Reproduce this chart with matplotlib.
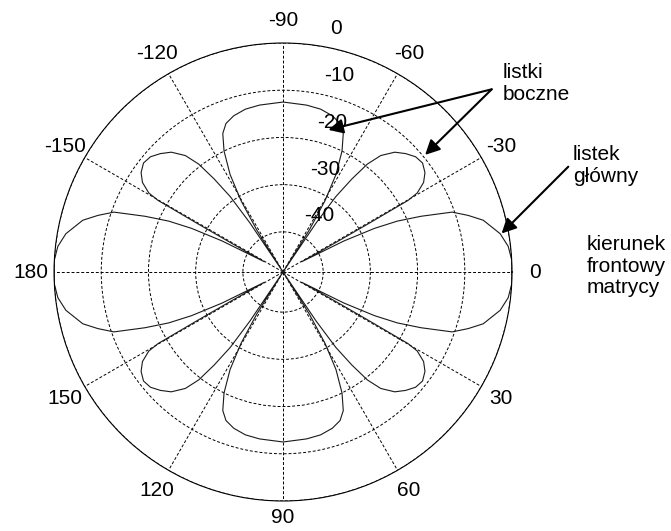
import numpy as np
import matplotlib.pyplot as plt
from matplotlib.transforms import offset_copy

plt.rcParams['font.family'] = ['Liberation Sans', 'DejaVu Sans']

# charakterystyka - jedna cwiartka (0..90 deg), reszta przez symetrie
quad_deg = np.array([0, 3, 6.5, 10, 14.5, 17, 19.5, 22, 24, 25.5, 27, 28.8,
                     29.2, 29.5, 29.8, 30.5, 32.5, 35, 38, 41, 44, 47, 50,
                     52, 53.5, 55, 56, 57, 58, 59.5, 61.5, 64, 66.5, 69,
                     72.5, 77, 82, 90])
quad_db = np.array([0, 0, -0.5, -1.8, -4.7, -7.5, -10.5, -17, -22, -27, -34, -44,
                    -36, -28, -18, -15.5, -13.2, -11.8, -11.0, -11.3, -12.4, -13.8, -16.3,
                    -19.5, -24, -29, -36, -48.5, -38, -31, -25, -20, -16.5, -14.8,
                    -13.8, -13.1, -12.8, -12.5])

theta_ticks = np.arange(0, 360, 30)
theta_labels = ['0', '30', '60', '90', '120', '150', '180',
                '-150', '-120', '-90', '-60', '-30']
r_ticks = [-40, -30, -20, -10, 0]
r_min = -48.5

W, H = 671, 531
R_PX = 229  # promien kola w pikselach


def fig_px(x, y):
    # piksele obrazka (od gory) -> figure fraction
    return (x / W, 1 - y / H)


def r_at(px):
    # odleglosc od srodka w pikselach -> wartosc r w danych
    return r_min + px / R_PX * (0 - r_min)


fig = plt.figure(figsize=(W / 100, H / 100), dpi=100)
ax = fig.add_axes([0.0805, 0.0565, 0.6826, 0.8625], projection='polar')
ax.set_theta_zero_location('E')
ax.set_theta_direction(-1)

full_deg = np.concatenate([quad_deg, 180 - quad_deg[::-1],
                           180 + quad_deg, 360 - quad_deg[::-1]])
full_db = np.concatenate([quad_db, quad_db[::-1], quad_db, quad_db[::-1]])
ax.plot(np.deg2rad(full_deg), np.clip(full_db, r_min, 0), color='#1a1a1a', lw=0.8)

ax.set_ylim(r_min, 0)
ax.set_yticks(r_ticks)
ax.set_yticklabels([])
ax.set_thetagrids(theta_ticks, [''] * len(theta_ticks))
ax.grid(True, color='k', ls=(0, (3, 2)), lw=0.7)
ax.spines['polar'].set_linewidth(0.8)

# opisy katow
for t, lab in zip(theta_ticks, theta_labels):
    d = 246 if t == 90 else 252
    ax.text(np.deg2rad(t), r_at(d), lab, ha='center', va='center',
            fontsize=15, clip_on=False)

# opisy osi promieniowej (dB)
tr = offset_copy(ax.transData, fig=fig, x=13, y=0, units='dots')
for v in r_ticks:
    ax.text(np.deg2rad(-82), v + 3.5, str(v), transform=tr,
            ha='left', va='center', fontsize=15)

# strzalki i opisy
arr = dict(arrowstyle='-|>', color='k', lw=1.5, mutation_scale=22,
           shrinkA=0, shrinkB=0)
ax.annotate('', xy=(np.deg2rad(-72.3), -16.9), xytext=fig_px(491.7, 89.3),
            textcoords='figure fraction', arrowprops=arr)
ax.annotate('', xy=(np.deg2rad(-39.5), -9.5), xytext=fig_px(491.7, 89.3),
            textcoords='figure fraction', arrowprops=arr)
ax.annotate('', xy=(np.deg2rad(-10), -1.5), xytext=fig_px(568.3, 166.7),
            textcoords='figure fraction', arrowprops=arr)

fig.text(*fig_px(503, 84), 'listki\nboczne', ha='left', va='center',
         fontsize=15, linespacing=1.2)
fig.text(*fig_px(573, 166), 'listek\ngłówny', ha='left', va='center',
         fontsize=15, linespacing=1.2)
fig.text(*fig_px(587, 266), 'kierunek\nfrontowy\nmatrycy', ha='left', va='center',
         fontsize=15, linespacing=1.15)

fig.savefig('out.png', dpi=100)
